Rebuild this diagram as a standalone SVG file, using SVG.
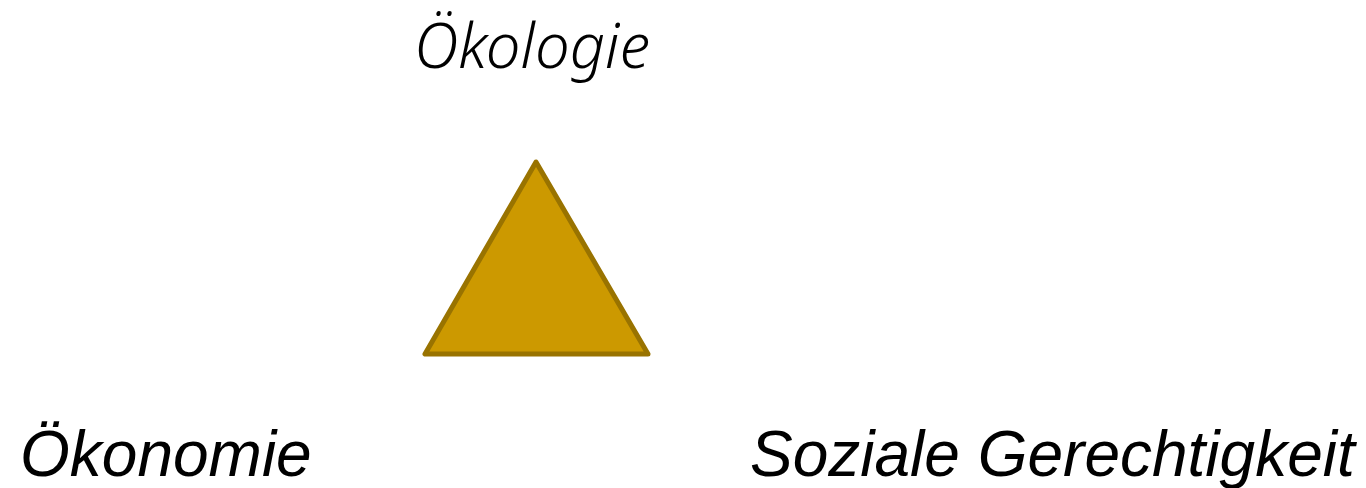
<svg xmlns="http://www.w3.org/2000/svg" width="1366" height="488" viewBox="0 0 1366 488">
<style>
.lbl{font-family:"Liberation Sans",Arial,sans-serif;font-style:italic;font-size:64px;fill:#000}
.top{font-family:"Noto Sans","Open Sans",sans-serif;font-style:italic;font-weight:300;font-size:62px;fill:#000}
</style>
<rect width="1366" height="488" fill="#fff"/>
<g id="triangle">
<polygon points="536,162 425,354 648,354" fill="#CC9900" stroke="#997300" stroke-width="5" stroke-linejoin="round"/>
</g>
<g id="oekologie"><text class="top" x="414" y="68" textLength="236" lengthAdjust="spacingAndGlyphs">Ökologie</text></g>
<g id="oekonomie"><text class="lbl" x="20" y="476">Ökonomie</text></g>
<g id="soziale"><text class="lbl" x="750" y="476">Soziale Gerechtigkeit</text></g>
<g id="connectors"></g>
</svg>
